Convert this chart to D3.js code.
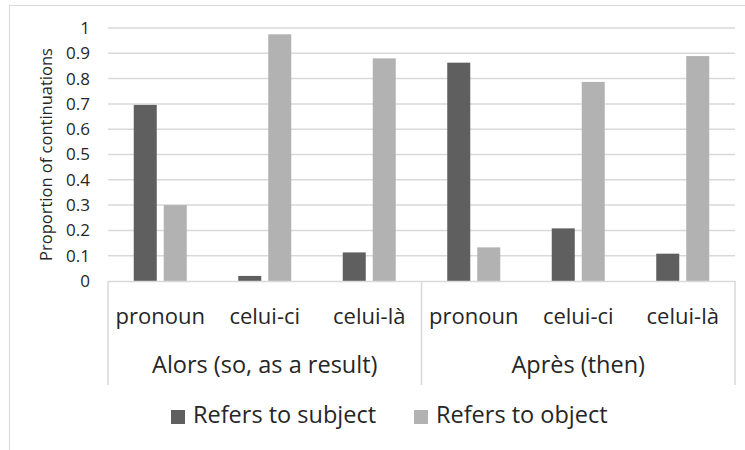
<!DOCTYPE html>
<html>
<head>
<meta charset="utf-8">
<script src="https://cdn.jsdelivr.net/npm/d3@7"></script>
<style>
  body { margin: 0; background: #fff; }
  text { font-family: "Open Sans", sans-serif; fill: #262626; }
</style>
</head>
<body>
<div id="chart"></div>
<script>
// data
var groups = ["Alors (so, as a result)", "Après (then)"];
var forms = ["pronoun", "celui-ci", "celui-là"];
var series = ["Refers to subject", "Refers to object"];
var subjectVals = [0.696, 0.02, 0.113, 0.863, 0.208, 0.108];
var objectVals = [0.30, 0.975, 0.88, 0.133, 0.787, 0.889];
var yTicks = [0, 0.1, 0.2, 0.3, 0.4, 0.5, 0.6, 0.7, 0.8, 0.9, 1];
var colors = ["#5f5f5f", "#b2b2b2"];

var width = 745, height = 450;
var plotLeft = 108, plotRight = 735, plotTop = 28, plotBottom = 281;

var cats = [];
groups.forEach(function(g, gi) {
    forms.forEach(function(f, fi) {
        var i = gi * forms.length + fi;
        cats.push({key: g + "|" + f, group: g, form: f, vals: [subjectVals[i], objectVals[i]]});
    });
});

var svg = d3.select("#chart").append("svg")
    .attr("width", width)
    .attr("height", height);

// outer chart border (runs off the right and bottom edge)
svg.append("rect")
    .attr("x", 9.5).attr("y", 5.5)
    .attr("width", 800).attr("height", 500)
    .attr("fill", "#fff")
    .attr("stroke", "#d9d9d9");

var y = d3.scaleLinear().domain([0, 1]).range([plotBottom, plotTop]);

var x = d3.scaleBand()
    .domain(cats.map(function(d) { return d.key; }))
    .range([plotLeft, plotRight]);

var bw = x.bandwidth();
var x1 = d3.scaleBand()
    .domain([0, 1])
    .range([bw / 2 - 26.5, bw / 2 + 26.5])
    .paddingInner(0.233);

// gridlines
svg.append("g").selectAll("line")
    .data(yTicks.slice(1))
    .enter().append("line")
    .attr("x1", plotLeft).attr("x2", plotRight)
    .attr("y1", function(d) { return y(d); })
    .attr("y2", function(d) { return y(d); })
    .attr("stroke", "#d9d9d9")
    .attr("stroke-width", 1.5);

// y axis labels
var yAxis = d3.axisLeft(y).tickValues(yTicks).tickSize(0).tickPadding(0)
    .tickFormat(function(d) { return d3.format("")(d); });
var yg = svg.append("g")
    .attr("transform", "translate(" + (plotLeft - 18) + ",0)")
    .call(yAxis);
yg.select(".domain").remove();
yg.selectAll("text")
    .style("font-size", "17px")
    .style("font-family", "Open Sans, sans-serif")
    .attr("fill", "#262626");

svg.append("text")
    .attr("transform", "translate(48," + ((plotTop + plotBottom) / 2) + ") rotate(-90)")
    .attr("text-anchor", "middle")
    .attr("dominant-baseline", "middle")
    .style("font-size", "16.5px")
    .text("Proportion of continuations");

// bars
var catG = svg.append("g").selectAll("g")
    .data(cats)
    .enter().append("g")
    .attr("transform", function(d) { return "translate(" + x(d.key) + ",0)"; });

catG.selectAll("rect")
    .data(function(d) { return d.vals; })
    .enter().append("rect")
    .attr("x", function(d, i) { return x1(i); })
    .attr("width", x1.bandwidth())
    .attr("y", function(d) { return y(d); })
    .attr("height", function(d) { return plotBottom - y(d); })
    .attr("fill", function(d, i) { return colors[i]; });

// category axis
svg.append("line")
    .attr("x1", plotLeft).attr("x2", plotRight)
    .attr("y1", plotBottom + 0.5).attr("y2", plotBottom + 0.5)
    .attr("stroke", "#d9d9d9").attr("stroke-width", 1.5);

var bounds = [plotLeft, x(cats[3].key), plotRight];
svg.append("g").selectAll("line")
    .data(bounds)
    .enter().append("line")
    .attr("x1", function(d) { return d; })
    .attr("x2", function(d) { return d; })
    .attr("y1", plotBottom).attr("y2", 385)
    .attr("stroke", "#d9d9d9").attr("stroke-width", 1.5);

svg.append("g").selectAll("text")
    .data(cats)
    .enter().append("text")
    .attr("x", function(d) { return x(d.key) + bw / 2; })
    .attr("y", 318)
    .attr("text-anchor", "middle")
    .attr("dominant-baseline", "middle")
    .style("font-size", "22px")
    .text(function(d) { return d.form; });

svg.append("g").selectAll("text")
    .data(groups)
    .enter().append("text")
    .attr("x", function(d, i) { return (bounds[i] + bounds[i + 1]) / 2; })
    .attr("y", 367)
    .attr("text-anchor", "middle")
    .attr("dominant-baseline", "middle")
    .style("font-size", "23.5px")
    .text(function(d) { return d; });

// legend
var legendX = [171, 414];
var leg = svg.append("g").selectAll("g")
    .data(series)
    .enter().append("g")
    .attr("transform", function(d, i) { return "translate(" + legendX[i] + ",417)"; });
leg.append("rect")
    .attr("x", 0).attr("y", -7)
    .attr("width", 14).attr("height", 14)
    .attr("fill", function(d, i) { return colors[i]; });
leg.append("text")
    .attr("x", 22).attr("y", 0)
    .attr("dominant-baseline", "middle")
    .style("font-size", "23.5px")
    .text(function(d) { return d; });
</script>
</body>
</html>
